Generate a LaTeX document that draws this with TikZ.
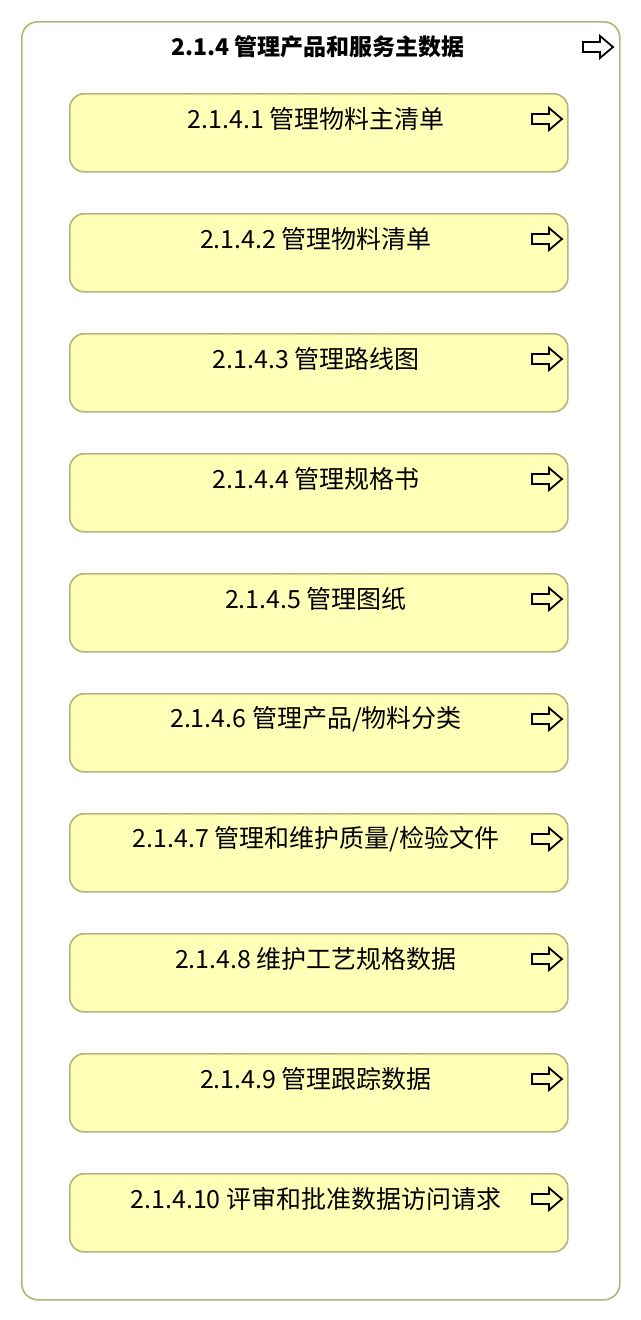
\documentclass[tikz,border=0pt]{standalone}
\usepackage{fontspec}
\setmainfont{Noto Sans CJK SC}
\definecolor{boxfill}{HTML}{FFFFB7}
\definecolor{boxline}{HTML}{B4B47C}
\tikzset{
  outerbox/.style={draw=boxline, line width=1.6pt, rounded corners=16pt, fill=white, anchor=north west, minimum width=598pt, minimum height=1278pt, inner sep=0pt},
  subbox/.style={draw=boxline, line width=1.6pt, rounded corners=14pt, fill=boxfill, anchor=north west, minimum width=498pt, minimum height=78pt, inner sep=0pt},
  subtext/.style={inner sep=0pt, font=\fontsize{25}{29}\selectfont},
  titletext/.style={inner sep=0pt, font=\fontsize{23}{27}\selectfont\bfseries},
  pics/goarrow/.style={code={
    \draw[line width=1.8pt, line join=miter] (-15,-5) -- (2,-5) -- (2,-11) -- (15,0) -- (2,11) -- (2,5) -- (-15,5) -- cycle;}}
}
\begin{document}
\begin{tikzpicture}[x=1pt,y=-1pt]
\useasboundingbox (0,0) rectangle (640,1320);
\node[outerbox] (outer) at (21,21) {};
\node[titletext] (title) at (318,47) {2.1.4 管理产品和服务主数据};
\pic at (598,47) {goarrow};
\foreach \i/\t in {1/{2.1.4.1 管理物料主清单},
                   2/{2.1.4.2 管理物料清单},
                   3/{2.1.4.3 管理路线图},
                   4/{2.1.4.4 管理规格书},
                   5/{2.1.4.5 管理图纸},
                   6/{2.1.4.6 管理产品/物料分类},
                   7/{2.1.4.7 管理和维护质量/检验文件},
                   8/{2.1.4.8 维护工艺规格数据},
                   9/{2.1.4.9 管理跟踪数据},
                   10/{2.1.4.10 评审和批准数据访问请求}} {
  \pgfmathsetmacro{\top}{93+120*(\i-1)}
  \node[subbox] (b\i) at (69,\top) {};
  \node[subtext] (t\i) at (316,\top+26) {\t};
  \pic at (547,\top+26) {goarrow};
}
\end{tikzpicture}
\end{document}
